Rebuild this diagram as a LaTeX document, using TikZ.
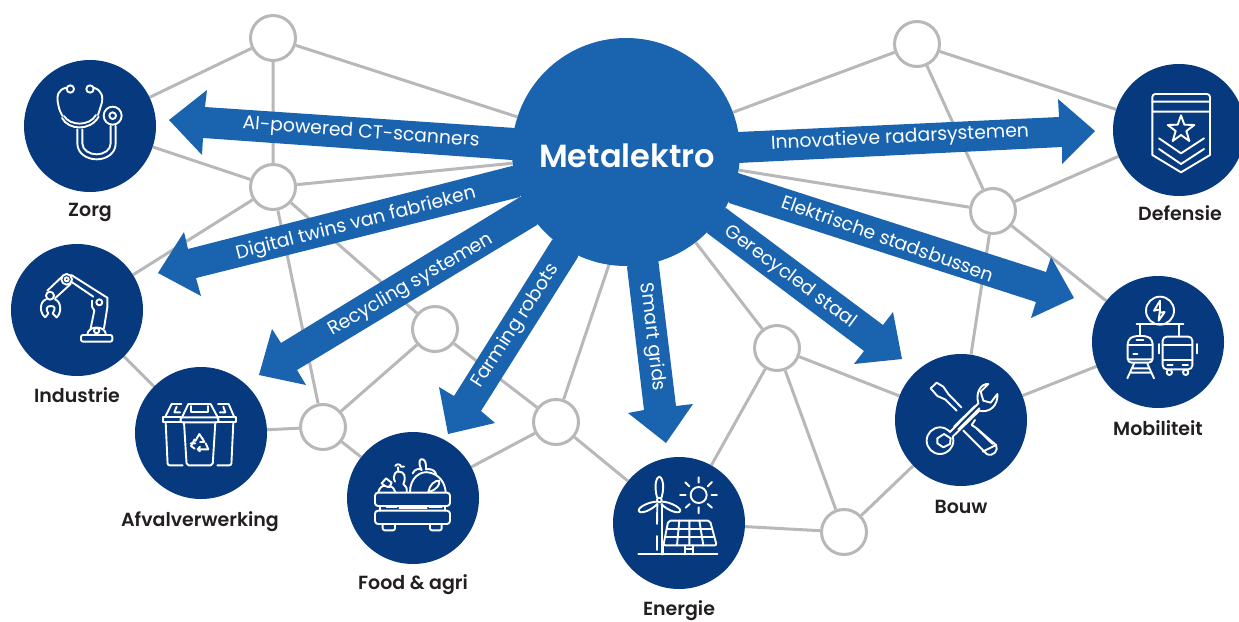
\documentclass[tikz,border=0pt]{standalone}
\usepackage{fontspec}
\setmainfont{Poppins}[BoldFont={Poppins SemiBold}]
\pgfdeclarelayer{bg}
\pgfsetlayers{bg,main}
\definecolor{arrowblue}{HTML}{1A64AF}
\definecolor{darkblue}{HTML}{07397F}
\definecolor{edgegray}{HTML}{B8B8BA}
\definecolor{labelink}{HTML}{231F20}
\tikzset{
  hub/.style={circle,draw=edgegray,line width=3pt,fill=white,minimum size=45pt,inner sep=0pt},
  sector/.style={circle,fill=darkblue,minimum size=132pt,inner sep=0pt},
  core/.style={circle,fill=arrowblue,minimum size=228pt,inner sep=0pt},
  coretext/.style={text=white,inner sep=0pt,font=\bfseries\fontsize{32}{36}\selectfont},
  link/.style={draw=edgegray,line width=3pt},
  fat/.style={fill=arrowblue},
  flow/.style={text=white,font=\fontsize{18.8}{22}\selectfont,inner sep=0pt},
  caption/.style={text=labelink,anchor=base,font=\bfseries\fontsize{19}{22}\selectfont,inner sep=0pt},
  iconline/.style={draw=white,line width=1.9pt,line cap=round,line join=round},
}
\newenvironment{iconzone}[2]{\begin{scope}[shift={(#1,#2)},x=0.33333pt,y=-0.33333pt]}{\end{scope}}
\begin{document}
\begin{tikzpicture}[x=1pt,y=-1pt]
\useasboundingbox (0,0) rectangle (1239,621);
% hubs
\node[hub] (h1) at (273,38) {};
\node[hub] (h2) at (273,187) {};
\node[hub] (h3) at (435,329) {};
\node[hub] (h4) at (323,427) {};
\node[hub] (h5) at (556,422) {};
\node[hub] (h6) at (777,348) {};
\node[hub] (h7) at (844,532) {};
\node[hub] (h8) at (993,211) {};
\node[hub] (h9) at (917,44) {};
% sectors
\node[sector] (zorg) at (90,126) {};
\node[sector] (ind) at (77,310) {};
\node[sector] (afv) at (201,433) {};
\node[sector] (food) at (413,498) {};
\node[sector] (en) at (679,523) {};
\node[sector] (bouw) at (961,420) {};
\node[sector] (mob) at (1158,342) {};
\node[sector] (def) at (1179,130) {};
\node[core] (meta) at (626,152) {};
\coordinate (m5) at (647,152);
% edges
\begin{pgfonlayer}{bg}
\draw[link] (h1)--(zorg) (h1)--(meta) (h1)--(h2) (h2)--(zorg) (h2)--(ind) (h2)--(meta)
 (h2)--(h3) (h2)--(h4) (h3)--(h4) (h3)--(h5) (h4)--(afv) (h4)--(food) (afv)--(ind)
 (h5)--(food) (h5)--(m5) (h5)--(en) (h6)--(meta) (h6)--(en) (h6)--(h7) (h6)--(bouw)
 (h7)--(en) (h7)--(bouw) (h8)--(meta) (h8)--(def) (h8)--(mob) (h8)--(bouw) (h8)--(h9)
 (h9)--(meta) (h9)--(def) (bouw)--(mob);
\end{pgfonlayer}
% arrows
\fill[fat] (169,120)--(207,90)--(205,107)--(515,128)--(530,150)--(512,160)--(203,138)--(202,155)--cycle;
\fill[fat] (158,273)--(184,232)--(188,249)--(512,166)--(530,175)--(520,197)--(196,278)--(201,296)--cycle;
\fill[fat] (259,375)--(272,329)--(281,343)--(520,197)--(550,200)--(537,225)--(297,370)--(306,385)--cycle;
\fill[fat] (448,434)--(439,387)--(454,396)--(552,240)--(575,225)--(578,257)--(481,411)--(495,423)--cycle;
\fill[fat] (666,443)--(628,413)--(644,410)--(627,267)--(640,255)--(658,258)--(676,406)--(693,404)--cycle;
\fill[fat] (902,359)--(854,364)--(864,351)--(707,233)--(712,220)--(726,208)--(883,325)--(893,312)--cycle;
\fill[fat] (1074,298)--(1031,318)--(1036,302)--(729,203)--(725,190)--(738,173)--(1046,272)--(1051,257)--cycle;
\fill[fat] (1095,131)--(1058,99)--(1059,117)--(738,132)--(725,150)--(738,163)--(1062,147)--(1062,164)--cycle;
% arrow labels
\node[coretext] (mt) at (627,156) {Metalektro};
\node[flow,rotate=-4.2] (l1) at (361,133) {AI-powered CT-scanners};
\node[flow,rotate=14.4] (l2) at (356,224) {Digital twins van fabrieken};
\node[flow,rotate=30] (l3) at (411,285) {Recycling systemen};
\node[flow,rotate=57] (l4) at (516,326) {Farming robots};
\node[flow,rotate=-83] (l5) at (652,337) {Smart grids};
\node[flow,rotate=-36.5] (l6) at (790,277) {Gerecycled staal};
\node[flow,rotate=-19.5] (l7) at (888,238) {Elektrische stadsbussen};
\node[flow,rotate=2.8] (l8) at (900,138) {Innovatieve radarsystemen};
% captions
\node[caption] (c1) at (90,216.5) {Zorg};
\node[caption] (c2) at (77,402) {Industrie};
\node[caption] (c3) at (200,526) {Afvalverwerking};
\node[caption] (c4) at (413,589) {Food \& agri};
\node[caption] (c5) at (679,615.5) {Energie};
\node[caption] (c6) at (961,513) {Bouw};
\node[caption] (c7) at (1158,435) {Mobiliteit};
\node[caption] (c8) at (1180,220) {Defensie};
% --- icons ---
\begin{iconzone}{0}{50}
% stethoscope
\draw[iconline] (211,117) circle (11) (270,117) circle (11);
\draw[iconline] (200,113) .. controls (175,118) and (168,135) .. (175,165) .. controls (178,182) and (184,192) .. (188,198);
\draw[iconline] (281,113) .. controls (305,120) and (313,140) .. (302,170) -- (294,195);
\draw[iconline] (186,204) .. controls (205,240) and (270,245) .. (296,200) (192,198) .. controls (210,228) and (268,230) .. (288,195);
\draw[iconline] (232,238) -- (232,280) .. controls (232,310) and (260,328) .. (290,328) .. controls (320,328) and (347,310) .. (347,280) -- (347,228);
\draw[iconline] (247,238) -- (247,280) .. controls (247,300) and (268,313) .. (290,313) .. controls (312,313) and (332,300) .. (332,280) -- (332,228);
\draw[iconline] (338,197) circle (27) (338,197) circle (10);
% robot arm
\draw[iconline,rounded corners=2pt] (243,855) rectangle (337,875);
\draw[iconline] (262,855) .. controls (262,825) and (318,825) .. (318,855);
\draw[iconline] (290,842) circle (8);
\draw[iconline] (272,835) -- (283,782) (312,835) -- (322,772);
\draw[iconline] (298,757) circle (9);
\draw[iconline] (280,740) -- (215,696) (320,742) -- (214,675) (322,742) -- (322,772) (276,770) -- (283,782) (276,752) -- (276,770);
\draw[iconline] (200,688) circle (16) (200,688) circle (6);
\draw[iconline] (186,680) -- (142,722) (212,702) -- (165,745);
\draw[iconline] (150,737) circle (12);
\draw[iconline] (136,802) .. controls (118,790) and (118,755) .. (138,748) (165,748) .. controls (185,755) and (185,790) .. (170,802) -- (158,790) .. controls (168,775) and (165,768) .. (152,768) .. controls (140,768) and (136,778) .. (145,790) -- (136,802);
\end{iconzone}
\begin{iconzone}{120}{360}
% bins
\draw[iconline,rounded corners=1.5pt] (182,172) rectangle (295,187);
\draw[iconline] (186,172) -- (205,132) -- (272,132) -- (293,172);
\draw[iconline] (214,138) -- (214,157) -- (264,157) -- (264,138);
\draw[iconline,rounded corners=2pt] (192,187) -- (200,316) -- (278,316) -- (286,187);
\draw[iconline] (182,172) -- (130,172) -- (130,187) -- (182,187);
\draw[iconline] (135,172) -- (155,132) -- (184,132) (163,157) -- (180,157) (163,157) -- (170,140);
\draw[iconline,rounded corners=2pt] (137,187) -- (143,316) -- (188,316);
\draw[iconline] (295,172) -- (348,172) -- (348,187) -- (295,187);
\draw[iconline] (343,172) -- (326,132) -- (294,132) (300,157) -- (316,157) -- (310,140);
\draw[iconline,rounded corners=2pt] (340,187) -- (334,316) -- (292,316);
% recycle
\draw[iconline] (226,243) -- (238,222) -- (252,244) (246,233) -- (253,246) -- (240,246);
\draw[iconline] (224,238) -- (213,258) -- (224,266) (212,250) -- (226,250);
\draw[iconline] (233,268) -- (265,268) -- (257,250) (240,260) -- (233,268) -- (240,274);
% crate
\draw[iconline,rounded corners=3pt] (765,398) rectangle (990,438);
\draw[iconline,rounded corners=3pt] (765,452) rectangle (990,492);
\draw[iconline] (780,438) -- (780,452) (800,442) -- (830,442) (838,445) -- (920,445) (928,442) -- (965,442) (975,438) -- (975,452);
\draw[iconline,rounded corners=2pt] (788,495) -- (788,511) -- (825,511) -- (825,495) (930,495) -- (930,511) -- (965,511) -- (965,495);
% produce
\draw[iconline] (870,396) .. controls (870,355) and (900,330) .. (930,338) .. controls (960,345) and (975,370) .. (977,396);
\draw[iconline] (925,396) .. controls (928,375) and (945,360) .. (958,362) .. controls (960,375) and (950,390) .. (925,396);
\draw[iconline] (878,340) .. controls (885,325) and (900,325) .. (905,330) .. controls (892,305) and (900,295) .. (908,298) .. controls (918,300) and (918,315) .. (918,328) .. controls (930,325) and (945,330) .. (948,342);
\draw[iconline] (825,365) .. controls (815,345) and (830,330) .. (838,335) .. controls (852,335) and (860,350) .. (850,372) .. controls (858,378) and (862,385) .. (860,396);
\draw[iconline] (835,335) -- (834,322) (826,318) .. controls (830,310) and (842,312) .. (843,320) -- (852,320);
\draw[iconline] (775,396) .. controls (778,382) and (790,375) .. (795,378) -- (785,370) -- (798,355) -- (815,368) -- (808,382) -- (795,378) (808,378) .. controls (818,380) and (824,388) .. (826,396);
\end{iconzone}
\begin{iconzone}{600}{370}
% wind turbine
\draw[iconline] (172,402) -- (171,462) (186,402) -- (186,553) (171,498) -- (171,540);
\draw[iconline] (178,390) circle (7);
\draw[iconline] (171,382) .. controls (160,340) and (172,320) .. (178,320) .. controls (184,320) and (196,340) .. (185,382);
\draw[iconline] (170,395) .. controls (150,395) and (115,410) .. (116,422) .. controls (120,435) and (155,420) .. (172,402);
\draw[iconline] (187,395) .. controls (205,395) and (240,410) .. (241,422) .. controls (238,435) and (200,420) .. (184,402);
\draw[iconline] (115,553) -- (352,553);
% sun
\draw[iconline] (296,375) circle (24);
\draw[iconline] (296,322) -- (296,338) (296,412) -- (296,430) (240,375) -- (257,375) (335,375) -- (351,375) (256,337) -- (268,349) (336,336) -- (323,349) (257,413) -- (269,402) (336,413) -- (323,402);
% panel
\draw[iconline,rounded corners=2pt] (205,452) -- (330,452) -- (350,526) -- (190,526) -- cycle;
\draw[iconline] (200,476) -- (336,476) (195,502) -- (343,502);
\draw[iconline] (238,452) -- (231,526) (268,452) -- (268,526) (298,452) -- (310,526);
\draw[iconline] (255,526) -- (255,553) (278,526) -- (278,553) (255,538) -- (278,538) (190,526) -- (190,553);
% tools
\draw[iconline] (992,55) -- (1010,38) -- (1030,50) -- (1045,72) -- (1084,112);
\draw[iconline] (992,55) -- (1012,78) -- (1035,88) -- (1070,122);
\draw[iconline] (1125,150) -- (1115,165) -- (1130,175) -- (1188,225) .. controls (1197,240) and (1180,262) .. (1160,252) -- (1100,192) -- (1090,182);
\draw[iconline] (1130,175) -- (1145,190) (1145,190) -- (1178,222) (1148,245) -- (1188,225);
\draw[iconline] (1050,186) -- (1135,100) .. controls (1125,65) and (1145,40) .. (1165,42) -- (1142,65) -- (1150,92) -- (1172,98) -- (1192,72) .. controls (1195,105) and (1170,130) .. (1138,122) -- (1058,200);
\draw[iconline] (1062,170) -- (1125,108) (1075,178) -- (1138,115);
\draw[iconline] (1050,186) .. controls (1042,177) and (1031,172) .. (1020,172) .. controls (998,172) and (980,190) .. (980,212) .. controls (980,234) and (998,252) .. (1020,252) .. controls (1042,252) and (1060,234) .. (1060,212) .. controls (1060,207) and (1059,203) .. (1058,200);
\draw[iconline] (1012,205) -- (1032,192) -- (1052,205) -- (1050,222) -- (1030,232) -- (1012,220) -- cycle;
\end{iconzone}
\begin{iconzone}{1080}{70}
% badge
\draw[iconline,rounded corners=3pt] (217,95) -- (217,72) -- (390,72) -- (390,95);
\draw[iconline] (217,95) -- (217,255) -- (303,307) -- (390,255) -- (390,95) (217,95) -- (390,95) (217,125) -- (390,125);
\draw[iconline] (303,136) -- (313,164) -- (343,165) -- (319,183) -- (328,213) -- (303,195) -- (278,213) -- (287,183) -- (263,165) -- (293,164) -- cycle;
\draw[iconline] (237,205) -- (303,250) -- (372,205) (237,237) -- (303,282) -- (372,237);
% mobility
\draw[iconline] (240,722) circle (42);
\draw[iconline] (240,692) -- (222,722) -- (240,718) -- (236,752) -- (254,726) -- (240,728) -- (240,692);
\draw[iconline] (170,763) -- (310,763) (180,763) -- (180,796) (297,763) -- (297,796);
\draw[iconline,rounded corners=4pt] (143,878) -- (143,810) -- (160,798) -- (202,798) -- (218,810) -- (218,878) -- cycle;
\draw[iconline] (145,825) -- (216,825) (145,868) -- (216,868) (170,810) -- (190,810) (162,881) -- (142,925) (202,881) -- (222,925) (150,908) -- (214,908) (155,895) -- (208,895) (160,852) -- (172,852);
\draw[iconline,rounded corners=4pt] (248,898) -- (248,800) -- (337,800) -- (337,898) -- cycle;
\draw[iconline] (248,825) -- (337,825) (248,870) -- (337,870) (262,885) -- (278,885) (308,885) -- (324,885) (238,822) -- (238,850) (350,822) -- (350,850);
\draw[iconline] (268,907) circle (8) (317,907) circle (8);
\end{iconzone}
\end{tikzpicture}
\end{document}
